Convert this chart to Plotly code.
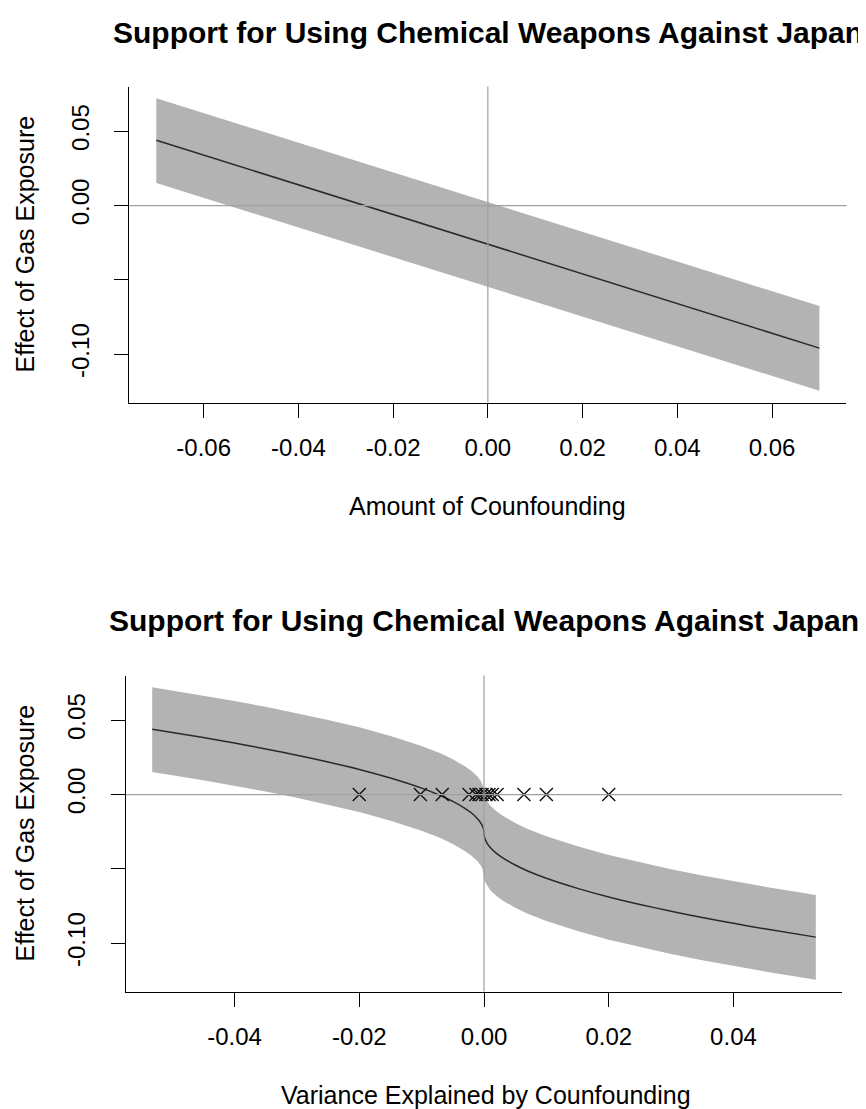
import plotly.graph_objects as go

# ---------------- data ----------------
title_text = "Support for Using Chemical Weapons Against Japan"
ylab = "Effect of Gas Exposure"
xlab_top = "Amount of Counfounding"
xlab_bot = "Variance Explained by Counfounding"

# top panel: effect vs amount of confounding
conf_x = [-0.07, -0.035, 0.0, 0.035, 0.07]
conf_est = [0.0439, 0.0090, -0.0260, -0.0610, -0.0959]
conf_hi = [0.0722, 0.0373, 0.0023, -0.0327, -0.0676]
conf_lo = [0.0152, -0.0197, -0.0547, -0.0897, -0.1246]

# bottom panel: effect vs variance explained by confounding
var_x = [-0.0532, -0.045, -0.04, -0.035, -0.03, -0.025, -0.02, -0.015, -0.01,
         -0.007, -0.005, -0.003, -0.002, -0.001, -0.0005, -0.0002, -0.00005, 0.0,
         0.00005, 0.0002, 0.0005, 0.001, 0.002, 0.003, 0.005, 0.007, 0.01,
         0.015, 0.02, 0.025, 0.03, 0.035, 0.04, 0.045, 0.0532]
var_est = [0.0439, 0.0383, 0.0346, 0.0307, 0.0265, 0.0219, 0.0169, 0.0111, 0.0043,
           -0.0006, -0.0046, -0.0094, -0.0124, -0.0164, -0.0192, -0.0217, -0.0239, -0.0260,
           -0.0281, -0.0303, -0.0328, -0.0356, -0.0396, -0.0426, -0.0474, -0.0514, -0.0563,
           -0.0631, -0.0689, -0.0739, -0.0785, -0.0827, -0.0866, -0.0903, -0.0959]
var_hi = [0.0722, 0.0666, 0.0629, 0.0590, 0.0548, 0.0502, 0.0452, 0.0394, 0.0326,
          0.0277, 0.0237, 0.0189, 0.0159, 0.0119, 0.0091, 0.0066, 0.0044, 0.0023,
          0.0002, -0.0020, -0.0045, -0.0073, -0.0113, -0.0143, -0.0191, -0.0231, -0.0280,
          -0.0348, -0.0406, -0.0456, -0.0502, -0.0544, -0.0583, -0.0620, -0.0676]
var_lo = [0.0152, 0.0096, 0.0059, 0.0020, -0.0022, -0.0068, -0.0118, -0.0176, -0.0244,
          -0.0293, -0.0333, -0.0381, -0.0411, -0.0451, -0.0479, -0.0504, -0.0526, -0.0547,
          -0.0568, -0.0590, -0.0615, -0.0643, -0.0683, -0.0713, -0.0761, -0.0801, -0.0850,
          -0.0918, -0.0976, -0.1026, -0.1072, -0.1114, -0.1153, -0.1190, -0.1246]

# benchmark covariates (x marks on the zero line)
bench_x = [-0.0200, -0.0102, -0.0067, -0.0024, -0.0013, -0.0008, -0.0003,
           0.0003, 0.0008, 0.0013, 0.0021, 0.0064, 0.0100, 0.0200]
bench_y = [0.0] * len(bench_x)

x_ticks_top = [-0.06, -0.04, -0.02, 0.0, 0.02, 0.04, 0.06]
x_tick_text_top = ["-0.06", "-0.04", "-0.02", "0.00", "0.02", "0.04", "0.06"]
x_ticks_bot = [-0.04, -0.02, 0.0, 0.02, 0.04]
x_tick_text_bot = ["-0.04", "-0.02", "0.00", "0.02", "0.04"]
y_ticks = [-0.10, -0.05, 0.0, 0.05]
y_tick_text = ["-0.10", "", "0.00", "0.05"]

# ---------------- styling ----------------
PAGE_W, PAGE_H = 866, 1109
OFF = 8  # default page body margin
W, H = PAGE_W, PAGE_H
FONT = "Liberation Sans, Arial, Helvetica, sans-serif"
BAND = "#b3b3b3"
LINE = "#2a2a2a"
REF = "#a0a0a0"

fig = go.Figure()


def band_trace(x, lo, hi, xa, ya):
    return go.Scatter(x=list(x) + list(x)[::-1], y=list(hi) + list(lo)[::-1],
                      fill="toself", fillcolor=BAND, line=dict(width=0),
                      mode="lines", hoverinfo="skip", showlegend=False,
                      xaxis=xa, yaxis=ya)


fig.add_trace(band_trace(conf_x, conf_lo, conf_hi, "x", "y"))
fig.add_trace(go.Scatter(x=conf_x, y=conf_est, mode="lines",
                         line=dict(color=LINE, width=1.5), showlegend=False,
                         xaxis="x", yaxis="y"))

fig.add_trace(band_trace(var_x, var_lo, var_hi, "x2", "y2"))
fig.add_trace(go.Scatter(x=var_x, y=var_est, mode="lines",
                         line=dict(color=LINE, width=1.5, shape="spline", smoothing=0.6),
                         showlegend=False, xaxis="x2", yaxis="y2"))
fig.add_trace(go.Scatter(x=bench_x, y=bench_y, mode="markers",
                         marker=dict(symbol="x-thin", size=13,
                                     line=dict(color="#111111", width=1.4)),
                         showlegend=False, xaxis="x2", yaxis="y2"))

# reference lines at zero (full plot region)
for xa, ya in (("x", "y"), ("x2", "y2")):
    fig.add_shape(type="line", xref=f"{xa} domain", yref=ya, x0=0, x1=1, y0=0, y1=0,
                  line=dict(color=REF, width=1.2), layer="above")
    fig.add_shape(type="line", xref=xa, yref=f"{ya} domain", x0=0, x1=0, y0=0, y1=1,
                  line=dict(color=REF, width=1.2), layer="above")


def px_x(p):
    return (p - OFF) / W


def px_y(p):
    return 1 - (p - OFF) / H


axis_common = dict(showgrid=False, zeroline=False, showline=True, linecolor="black",
                   linewidth=1.4, ticks="outside", ticklen=14, tickwidth=1.4,
                   tickcolor="black", tickfont=dict(family=FONT, size=24, color="black"))

fig.update_layout(
    width=W, height=H,
    margin=dict(l=0, r=0, t=0, b=0),
    paper_bgcolor="white", plot_bgcolor="white",
    font=dict(family=FONT, color="black"),
    xaxis=dict(domain=[px_x(129.3), px_x(846.4)], range=[-0.0757, 0.0757],
               anchor="y", tickvals=x_ticks_top, ticktext=x_tick_text_top,
               ticklabelstandoff=9, **axis_common),
    yaxis=dict(domain=[px_y(402.5), px_y(86.5)], range=[-0.13247, 0.08007],
               anchor="x", tickvals=y_ticks, ticktext=y_tick_text, tickangle=-90,
               ticklabelstandoff=16, **axis_common),
    xaxis2=dict(domain=[px_x(126.0), px_x(842.0)], range=[-0.0574, 0.0574],
                anchor="y2", tickvals=x_ticks_bot, ticktext=x_tick_text_bot,
                ticklabelstandoff=9, **axis_common),
    yaxis2=dict(domain=[px_y(991.5), px_y(675.5)], range=[-0.13247, 0.08007],
                anchor="x2", tickvals=y_ticks, ticktext=y_tick_text, tickangle=-90,
                ticklabelstandoff=16, **axis_common),
)

annots = [
    dict(text=f"<b>{title_text}</b>", x=px_x(487.9), y=px_y(32), size=30),
    dict(text=f"<b>{title_text}</b>", x=px_x(484.0), y=px_y(620.7), size=30),
    dict(text=xlab_top, x=px_x(487.7), y=px_y(506), size=25),
    dict(text=xlab_bot, x=px_x(485.5), y=px_y(1094.5), size=25),
]
for a in annots:
    fig.add_annotation(text=a["text"], x=a["x"], y=a["y"], xref="paper", yref="paper",
                       xanchor="center", yanchor="middle", showarrow=False,
                       font=dict(family=FONT, size=a["size"], color="black"))
for yc in (244.5, 833.5):
    fig.add_annotation(text=ylab, x=px_x(24), y=px_y(yc), xref="paper", yref="paper",
                       xanchor="center", yanchor="middle", showarrow=False, textangle=-90,
                       font=dict(family=FONT, size=25, color="black"))

fig.write_html("out.html")
